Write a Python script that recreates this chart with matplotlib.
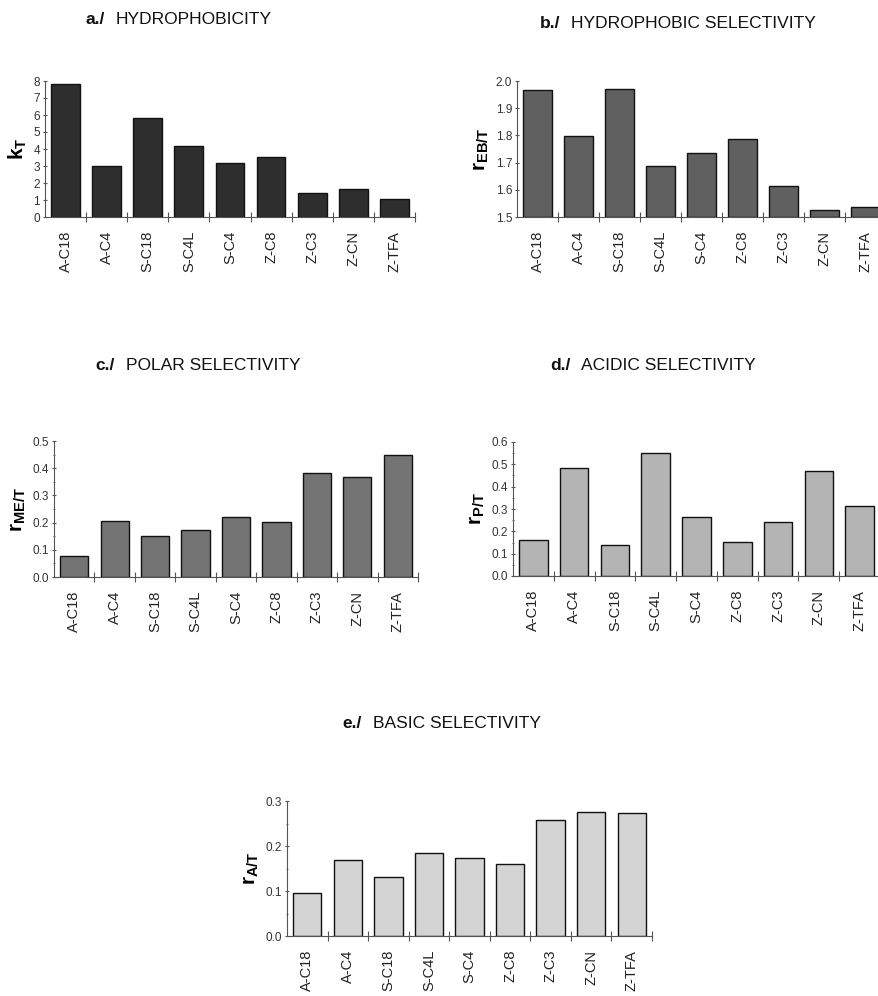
import matplotlib
matplotlib.use("Agg")
from matplotlib import pyplot as plt
from matplotlib.ticker import MultipleLocator, FormatStrFormatter

plt.rcParams['font.family'] = ['Liberation Sans', 'DejaVu Sans']
plt.rcParams['mathtext.fontset'] = 'custom'
plt.rcParams['mathtext.rm'] = 'Liberation Sans'
plt.rcParams['mathtext.bf'] = 'Liberation Sans:bold'

columns = ["A-C18", "A-C4", "S-C18", "S-C4L", "S-C4", "Z-C8", "Z-C3", "Z-CN", "Z-TFA"]

hydrophobicity = [7.85, 2.98, 5.85, 4.18, 3.17, 3.52, 1.42, 1.63, 1.08]
hydrophobic_sel = [1.967, 1.799, 1.972, 1.688, 1.735, 1.785, 1.613, 1.525, 1.537]
polar_sel = [0.076, 0.207, 0.152, 0.174, 0.222, 0.203, 0.384, 0.368, 0.450]
acidic_sel = [0.161, 0.484, 0.137, 0.552, 0.263, 0.152, 0.242, 0.472, 0.312]
basic_sel = [0.095, 0.169, 0.132, 0.185, 0.174, 0.161, 0.258, 0.276, 0.274]

W, H = 879, 996
fig = plt.figure(figsize=(W / 100, H / 100), dpi=100)


def px_axes(left, right, bottom, top):
    return fig.add_axes([left / W, 1 - bottom / H, (right - left) / W, (bottom - top) / H])


def panel(ax, values, ylim, major, minor, fmt, color, ylabel):
    x = range(len(values))
    ax.bar(x, [v - ylim[0] for v in values], bottom=ylim[0], width=0.7,
           color=color, edgecolor="#111111", linewidth=1.0)
    ax.set_xlim(-0.5, len(values) - 0.5)
    ax.set_ylim(*ylim)
    for s in ("top", "right"):
        ax.spines[s].set_visible(False)
    ax.spines["left"].set_color("#555555")
    ax.spines["bottom"].set_color("#555555")
    ax.yaxis.set_major_locator(MultipleLocator(major))
    if minor:
        ax.yaxis.set_minor_locator(MultipleLocator(minor))
    ax.yaxis.set_major_formatter(FormatStrFormatter(fmt))
    ax.tick_params(axis="y", which="major", length=3, direction="inout", labelsize=8.5,
                   labelcolor="#333333", color="#555555", pad=2)
    ax.tick_params(axis="y", which="minor", length=2, direction="inout", color="#555555")
    # category boundary ticks on x axis
    ax.set_xticks([i + 0.5 for i in range(len(values))])
    ax.set_xticklabels([])
    ax.tick_params(axis="x", which="major", length=7, direction="inout", color="#555555")
    ax.set_xticks(list(x), minor=True)
    ax.set_xticklabels(columns, minor=True, rotation=90, fontsize=10.5, color="#222222")
    ax.tick_params(axis="x", which="minor", length=0, pad=10)
    ax.set_ylabel(ylabel, fontsize=15, labelpad=3)


ax_a = px_axes(45, 415, 217, 81)
panel(ax_a, hydrophobicity, (0, 8), 1, None, "%d", "#2e2e2e", r"$\mathbf{k}_\mathbf{T}$")

ax_b = px_axes(517, 886, 217, 81)
panel(ax_b, hydrophobic_sel, (1.5, 2.0), 0.1, None, "%.1f", "#606060", r"$\mathbf{r}_\mathbf{EB/T}$")

ax_c = px_axes(54, 418, 577, 441)
panel(ax_c, polar_sel, (0.0, 0.5), 0.1, 0.05, "%.1f", "#747474", r"$\mathbf{r}_\mathbf{ME/T}$")

ax_d = px_axes(513, 880, 576, 442)
panel(ax_d, acidic_sel, (0.0, 0.6), 0.1, 0.05, "%.1f", "#b4b4b4", r"$\mathbf{r}_\mathbf{P/T}$")

ax_e = px_axes(287, 652, 936, 801)
panel(ax_e, basic_sel, (0.0, 0.3), 0.1, 0.05, "%.1f", "#d4d4d4", r"$\mathbf{r}_\mathbf{A/T}$")

titles = [(85, 20, "a./", "HYDROPHOBICITY"),
          (540, 23, "b./", "HYDROPHOBIC SELECTIVITY"),
          (95, 365, "c./", "POLAR SELECTIVITY"),
          (550, 365, "d./", "ACIDIC SELECTIVITY"),
          (342, 723, "e./", "BASIC SELECTIVITY")]
for tx, ty, tag, name in titles:
    fig.text(tx / W, 1 - ty / H, tag, fontsize=12.5, fontweight="bold",
             va="center", ha="left", color="#111111")
    fig.text((tx + 31) / W, 1 - ty / H, name, fontsize=12.5,
             va="center", ha="left", color="#111111")

fig.savefig("out.png", dpi=100)
